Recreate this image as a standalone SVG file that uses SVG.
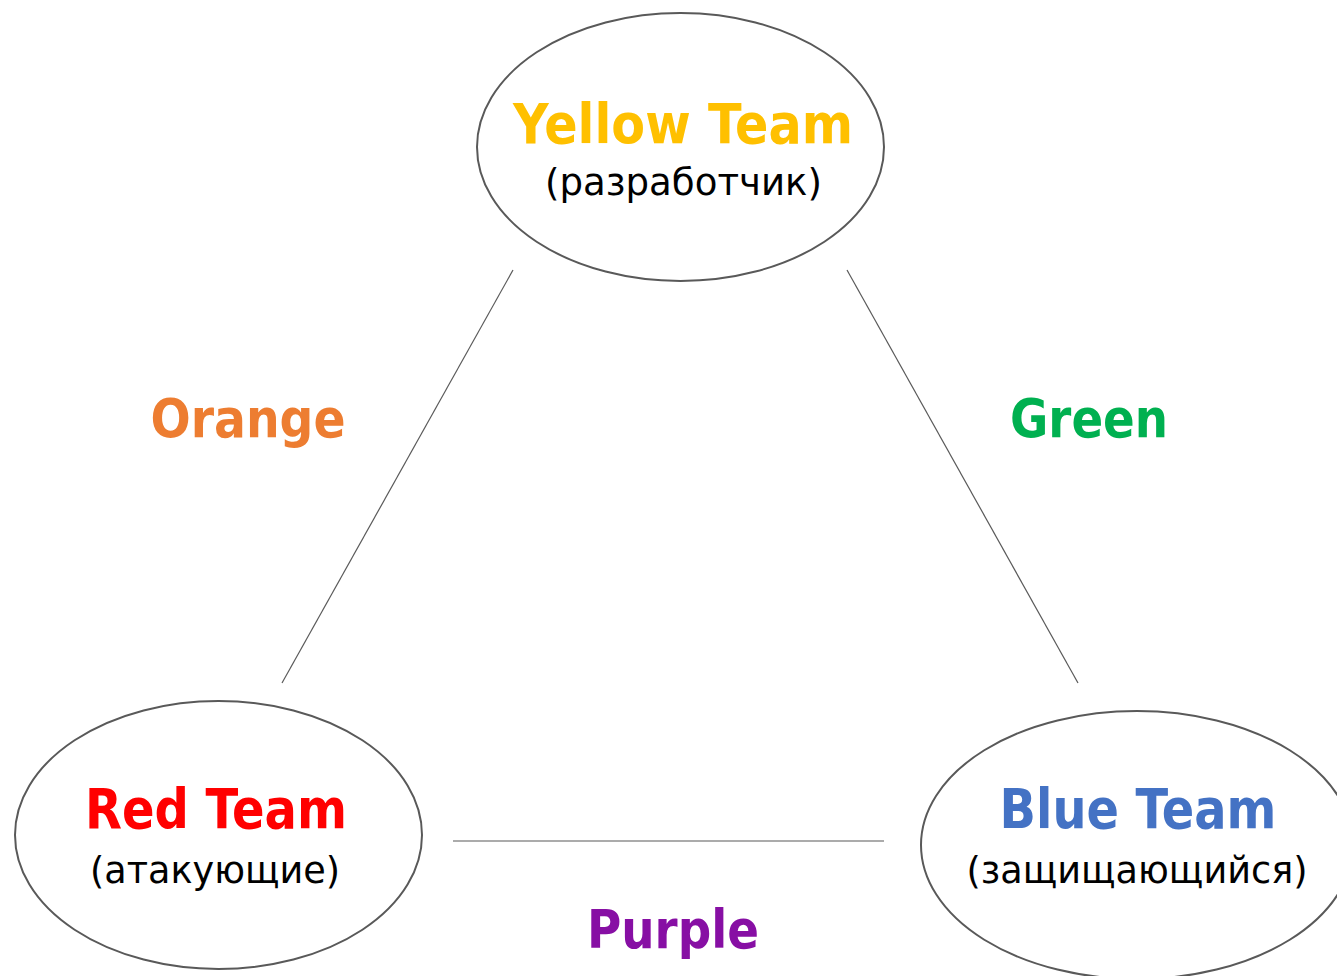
<svg xmlns="http://www.w3.org/2000/svg" width="1337" height="976" viewBox="0 0 1337 976">
<style>
.node{fill:#FFFFFF;stroke:#595959;stroke-width:2}
.edge{stroke:#595959;stroke-width:1.2;fill:none}
.title{font-family:"DejaVu Sans","Liberation Sans",sans-serif;font-weight:bold;font-size:55px;text-anchor:middle}
.sub{font-family:"DejaVu Sans","Liberation Sans",sans-serif;font-size:38px;fill:#000000;text-anchor:middle}
.lbl{font-family:"DejaVu Sans","Liberation Sans",sans-serif;font-weight:bold;font-size:54px;text-anchor:middle}
</style>
<rect width="1337" height="976" fill="#FFFFFF"/>
<g id="connectors">
<line class="edge" x1="513" y1="270" x2="282" y2="683"/>
<line class="edge" x1="847" y1="270" x2="1078" y2="683"/>
<line class="edge" x1="453" y1="841" x2="884" y2="841"/>
</g>
<g id="yellow">
<ellipse class="node" cx="680.5" cy="147" rx="203.5" ry="134"/>
<text class="title" x="683" y="143" fill="#FFC000" textLength="340" lengthAdjust="spacingAndGlyphs">Yellow Team</text>
<text class="sub" x="683.5" y="195" textLength="277" lengthAdjust="spacingAndGlyphs">(разработчик)</text>
</g>
<g id="red">
<ellipse class="node" cx="218.5" cy="835" rx="203.5" ry="134"/>
<text class="title" x="216" y="828" fill="#FF0000" textLength="262" lengthAdjust="spacingAndGlyphs">Red Team</text>
<text class="sub" x="215" y="883" textLength="250" lengthAdjust="spacingAndGlyphs">(атакующие)</text>
</g>
<g id="blue">
<ellipse class="node" cx="1137" cy="845" rx="216" ry="134"/>
<text class="title" x="1138" y="828" fill="#4472C4" textLength="277" lengthAdjust="spacingAndGlyphs">Blue Team</text>
<text class="sub" x="1137" y="883" textLength="341" lengthAdjust="spacingAndGlyphs">(защищающийся)</text>
</g>
<g id="orange">
<text class="lbl" x="248" y="437" fill="#ED7D31" textLength="195" lengthAdjust="spacingAndGlyphs">Orange</text>
</g>
<g id="green">
<text class="lbl" x="1089" y="437" fill="#00B050" textLength="158" lengthAdjust="spacingAndGlyphs">Green</text>
</g>
<g id="purple">
<text class="lbl" x="673" y="948" fill="#870FA4" textLength="172" lengthAdjust="spacingAndGlyphs">Purple</text>
</g>
</svg>
